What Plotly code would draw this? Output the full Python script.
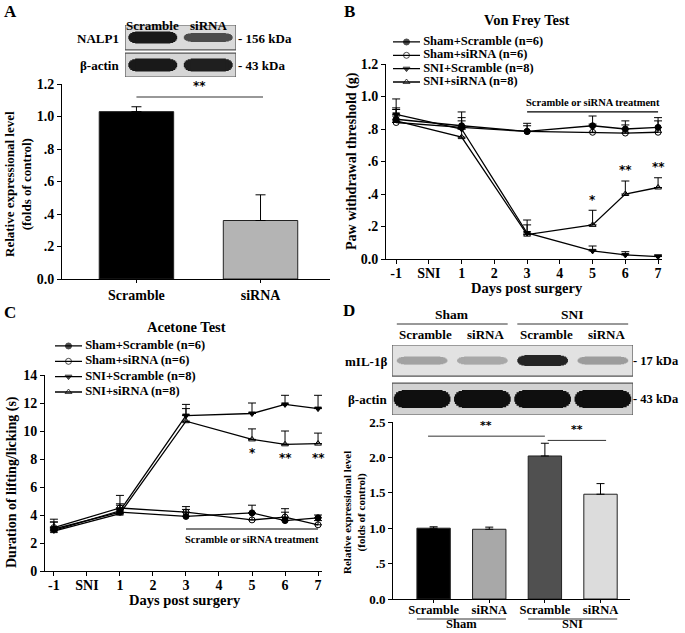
import plotly.graph_objects as go

W, H = 685, 633
SERIF = "Liberation Serif"

# ---- panel A: NALP1 knock-down ----
a_groups = ["Scramble", "siRNA"]
a_level = [1.03, 0.36]
a_err = [0.03, 0.158]
a_colors = ["#000000", "#b4b4b4"]
a_ticks = [0, 0.2, 0.4, 0.6, 0.8, 1.0, 1.2]
a_ticktext = ["0.0", ".2", ".4", ".6", ".8", "1.0", "1.2"]
a_blot_rows = ["NALP1", "β-actin"]
a_blot_kda = ["- 156 kDa", "- 43 kDa"]
a_blot_nalp1 = [0.95, 0.7]
a_blot_actin = [0.95, 0.92]

# ---- panels B/C: behaviour ----
days = [-1, 1, 3, 5, 6, 7]
day_ticks = [-1, 0, 1, 2, 3, 4, 5, 6, 7]
day_ticktext = ["-1", "SNI", "1", "2", "3", "4", "5", "6", "7"]
series_names = ["Sham+Scramble (n=6)", "Sham+siRNA (n=6)",
                "SNI+Scramble (n=8)", "SNI+siRNA (n=8)"]
series_symbols = ["circle", "circle-open", "triangle-down", "triangle-up-open"]

vf_sham_scr = [0.86, 0.82, 0.785, 0.82, 0.80, 0.81]
vf_sham_scr_err = [0.07, 0.085, 0.05, 0.06, 0.05, 0.06]
vf_sham_sirna = [0.84, 0.81, 0.785, 0.78, 0.775, 0.78]
vf_sham_sirna_err = [0.04, 0.04, 0.035, 0.05, 0.05, 0.07]
vf_sni_scr = [0.89, 0.80, 0.16, 0.05, 0.025, 0.015]
vf_sni_scr_err = [0.095, 0.07, 0.05, 0.03, 0.02, 0.01]
vf_sni_sirna = [0.85, 0.75, 0.15, 0.21, 0.40, 0.44]
vf_sni_sirna_err = [0.07, 0.05, 0.09, 0.09, 0.08, 0.06]
vf_star_days = [5, 6, 7]
vf_stars = ["*", "**", "**"]

ac_sham_scr = [3.0, 4.2, 3.9, 4.15, 3.6, 3.8]
ac_sham_scr_err = [0.5, 0.5, 0.5, 0.55, 0.6, 0.2]
ac_sham_sirna = [3.1, 4.5, 4.2, 3.65, 3.85, 3.3]
ac_sham_sirna_err = [0.4, 0.9, 0.4, 0.5, 0.6, 0.3]
ac_sni_scr = [2.9, 4.3, 11.1, 11.25, 11.9, 11.6]
ac_sni_scr_err = [0.8, 0.5, 0.8, 0.75, 0.65, 0.95]
ac_sni_sirna = [2.85, 4.1, 10.7, 9.4, 9.05, 9.1]
ac_sni_sirna_err = [0.3, 0.4, 0.9, 0.75, 0.95, 0.75]
ac_star_days = [5, 6, 7]
ac_stars = ["*", "**", "**"]
ac_ticks = [0, 2, 4, 6, 8, 10, 12, 14]

# ---- panel D: mIL-1beta ----
d_groups = ["Scramble", "siRNA", "Scramble", "siRNA"]
d_surgery = ["Sham", "SNI"]
d_level = [1.0, 0.985, 2.02, 1.48]
d_err = [0.02, 0.03, 0.18, 0.15]
d_colors = ["#000000", "#a8a8a8", "#505050", "#dcdcdc"]
d_ticks = [0, 0.5, 1.0, 1.5, 2.0, 2.5]
d_ticktext = ["0.0", ".5", "1.0", "1.5", "2.0", "2.5"]
d_blot_rows = ["mIL-1β", "β-actin"]
d_blot_kda = ["- 17 kDa", "- 43 kDa"]
d_blot_il1b = [0.3, 0.27, 0.9, 0.33]
d_blot_actin = [1.0, 1.0, 1.0, 1.0]


def xd(a, b):
    return [a / W, b / W]


def yd(top, bottom):
    return [1 - bottom / H, 1 - top / H]


def bold(size, family=SERIF):
    return dict(family=family, size=size, color="black", weight="bold")


def note(text, x, y, size, xanchor="center", **kw):
    fig.add_annotation(text=text, x=x / W, y=1 - y / H, xref="paper", yref="paper",
                       showarrow=False, font=bold(size), xanchor=xanchor,
                       yanchor="middle", **kw)


STAR = bold(12, "DejaVu Sans")

fig = go.Figure()

# panel A bars
fig.add_trace(go.Bar(
    x=list(range(len(a_groups))), y=a_level, width=0.6,
    marker=dict(color=a_colors, line=dict(color="#222", width=1)),
    error_y=dict(type="data", symmetric=False, array=a_err,
                 arrayminus=[0] * len(a_err), color="black", thickness=1, width=5),
    xaxis="x", yaxis="y", showlegend=False))


def behaviour(xa, ya, groups):
    for name, sym, (vals, err) in zip(series_names, series_symbols, groups):
        fig.add_trace(go.Scatter(
            x=days, y=vals, mode="lines+markers", name=name,
            line=dict(color="black", width=1.3),
            marker=dict(symbol=sym, size=6, color="black",
                        line=dict(color="black", width=1)),
            error_y=dict(type="data", symmetric=False, array=err,
                         arrayminus=[0] * len(err), color="black",
                         thickness=1, width=4),
            xaxis=xa, yaxis=ya, showlegend=False))


behaviour("x2", "y2", [(vf_sham_scr, vf_sham_scr_err), (vf_sham_sirna, vf_sham_sirna_err),
                       (vf_sni_scr, vf_sni_scr_err), (vf_sni_sirna, vf_sni_sirna_err)])
behaviour("x3", "y3", [(ac_sham_scr, ac_sham_scr_err), (ac_sham_sirna, ac_sham_sirna_err),
                       (ac_sni_scr, ac_sni_scr_err), (ac_sni_sirna, ac_sni_sirna_err)])

# significance stars
for d, s in zip(vf_star_days, vf_stars):
    i = days.index(d)
    fig.add_annotation(text=s, x=d, y=vf_sni_sirna[i] + vf_sni_sirna_err[i] + 0.01,
                       xref="x2", yref="y2", showarrow=False, yanchor="bottom",
                       font=STAR)
for d, s in zip(ac_star_days, ac_stars):
    i = days.index(d)
    fig.add_annotation(text=s, x=d, y=ac_sni_sirna[i] - 0.35, xref="x3", yref="y3",
                       showarrow=False, yanchor="top", font=STAR)

# panel D bars
fig.add_trace(go.Bar(
    x=list(range(len(d_groups))), y=d_level, width=0.6,
    marker=dict(color=d_colors, line=dict(color="#222", width=1)),
    error_y=dict(type="data", symmetric=False, array=d_err,
                 arrayminus=[0] * len(d_err), color="black", thickness=1, width=4),
    xaxis="x4", yaxis="y4", showlegend=False))


# western blot bands (layered strokes give rounded ends)
def band(xa, ya, cx, cy, level, thick, half, bg=215):
    shade = int(round(bg * (1 - level) + 15 * level))
    color = f"rgb({shade},{shade},{shade})"
    for f_len, f_w in [(1.0, 0.3), (0.97, 0.55), (0.92, 0.75), (0.84, 0.9), (0.72, 1.0)]:
        fig.add_trace(go.Scatter(
            x=[cx - half * f_len, cx + half * f_len], y=[cy, cy], mode="lines",
            line=dict(color=color, width=thick * f_w), hoverinfo="skip",
            xaxis=xa, yaxis=ya, showlegend=False))


for i, lv in enumerate(a_blot_nalp1):
    band("x5", "y5", i, 1.52, lv, 12 if lv > 0.8 else 9, 0.44)
for i, lv in enumerate(a_blot_actin):
    band("x5", "y5", i, 0.46, lv, 13, 0.44)
for i, lv in enumerate(d_blot_il1b):
    band("x6", "y6", i, 1.555, lv, 8 if lv < 0.5 else 11, 0.42, bg=225)
for i, lv in enumerate(d_blot_actin):
    band("x6", "y6", i, 0.455, lv, 18, 0.47, bg=210)

# blot boxes
for xa, ya, n, boxes, fills in [
        ("x5", "y5", 2, [(1.04, 2.0), (0.0, 0.92)], ["#dadada", "#d6d6d6"]),
        ("x6", "y6", 4, [(1.11, 2.0), (0.0, 0.91)], ["#e2e2e2", "#d2d2d2"])]:
    for (y0, y1), fc in zip(boxes, fills):
        fig.add_shape(type="rect", xref=xa, yref=ya, x0=-0.5, x1=n - 0.5, y0=y0, y1=y1,
                      fillcolor=fc, line=dict(color="#555", width=1.2), layer="below")


# manual legends
def legend(xa, ya):
    for k, (name, sym) in enumerate(zip(series_names, series_symbols)):
        fig.add_trace(go.Scatter(
            x=[0, 0.5, 1.0], y=[k + 1] * 3, mode="lines+markers+text",
            text=["", "", " " + name], textposition="middle right", textfont=bold(12.5),
            line=dict(color="black", width=1.3),
            marker=dict(symbol=sym, size=[0, 6, 0], color="black",
                        line=dict(color="black", width=1)),
            xaxis=xa, yaxis=ya, showlegend=False, hoverinfo="skip"))


legend("x7", "y7")
legend("x8", "y8")

# treatment bars and significance lines
fig.add_shape(type="line", xref="x2", yref="y2", x0=3, x1=7, y0=0.905, y1=0.905,
              line=dict(color="black", width=1.2))
fig.add_annotation(text="Scramble or siRNA treatment", x=5, y=0.915, xref="x2", yref="y2",
                   showarrow=False, yanchor="bottom", font=bold(10.5))
fig.add_shape(type="line", xref="x3", yref="y3", x0=3, x1=7, y0=3.0, y1=3.0,
              line=dict(color="black", width=1.2))
fig.add_annotation(text="Scramble or siRNA treatment", x=5, y=2.8, xref="x3", yref="y3",
                   showarrow=False, yanchor="top", font=bold(10.5))

fig.add_shape(type="line", xref="x", yref="y", x0=0, x1=1.02, y0=1.12, y1=1.12,
              line=dict(color="#333", width=1.2))
fig.add_annotation(text="**", x=0.51, y=1.13, xref="x", yref="y", showarrow=False,
                   yanchor="bottom", font=STAR)

for x0, x1, yv in [(-0.1, 2.0, 2.30), (2.05, 3.1, 2.24)]:
    fig.add_shape(type="line", xref="x4", yref="y4", x0=x0, x1=x1, y0=yv, y1=yv,
                  line=dict(color="#333", width=1))
    fig.add_annotation(text="**", x=(x0 + x1) / 2, y=yv + 0.03, xref="x4", yref="y4",
                       showarrow=False, yanchor="bottom", font=bold(11, "DejaVu Sans"))

# panel D surgery groups, below axis and above blot
for g, name in enumerate(d_surgery):
    c = 2 * g + 0.5
    fig.add_shape(type="line", xref="x4", yref="paper", x0=c - 0.8, x1=c + 0.8,
                  y0=1 - 619 / H, y1=1 - 619 / H, line=dict(color="#333", width=1))
    fig.add_annotation(text=name, x=c, y=1 - 633 / H, xref="x4", yref="paper",
                       showarrow=False, font=bold(12.5), yanchor="bottom")
    fig.add_shape(type="line", xref="x6", yref="paper", x0=c - 0.92, x1=c + 0.92,
                  y0=1 - 324 / H, y1=1 - 324 / H, line=dict(color="#333", width=1))
    fig.add_annotation(text=name, x=c, y=1 - 314 / H, xref="x6", yref="paper",
                       showarrow=False, font=bold(13.5))
for i, g in enumerate(d_groups):
    fig.add_annotation(text=g, x=i + 0.06, y=1 - 334 / H, xref="x6", yref="paper",
                       showarrow=False, font=bold(13))
for i, g in enumerate(a_groups):
    fig.add_annotation(text=g, x=i, y=1 - 16 / H, xref="x5", yref="paper",
                       showarrow=False, font=bold(13))

# blot row labels
for lab, kda, yy in zip(a_blot_rows, a_blot_kda, [38, 65]):
    note(lab, 121, yy, 13, xanchor="right")
    note(kda, 236, yy, 13, xanchor="left")
for lab, kda, yy in zip(d_blot_rows, d_blot_kda, [361, 399]):
    note(lab, 389, yy, 13, xanchor="right")
    note(kda, 631, yy, 12.5, xanchor="left")

# panel letters, titles, axis titles
for lab, x, y in [("A", 10, 12), ("B", 349, 12), ("C", 10, 312), ("D", 349, 310)]:
    note(lab, x, y, 17)
note("Von Frey Test", 527, 20, 14.5)
note("Acetone Test", 187, 327, 14.5)
note("Days post surgery", 527, 288, 14.5)
note("Days post surgery", 185, 600, 14.5)
note("Relative expressional level<br>(folds of control)", 18, 184, 13, textangle=-90)
note("Paw withdrawal threshold (g)", 352, 161, 14, textangle=-90)
note("Duration of lifting/licking (s)", 12, 482, 14, textangle=-90)
note("Relative expressional level<br>(folds of control)", 354, 513, 11, textangle=-90)

axis_common = dict(showline=True, linecolor="black", linewidth=1, showgrid=False,
                   zeroline=False, ticks="outside", ticklen=4, tickwidth=1,
                   tickcolor="black", tickfont=bold(14), automargin=False)
hidden = dict(visible=False, showgrid=False, zeroline=False, fixedrange=True,
              automargin=False)

fig.update_layout(
    width=W, height=H, margin=dict(l=0, r=0, t=0, b=0, autoexpand=False),
    paper_bgcolor="white", plot_bgcolor="rgba(0,0,0,0)", showlegend=False,
    bargap=0.4,
    xaxis=dict(axis_common, domain=xd(62, 330), range=[-0.6, 1.56], anchor="y",
               tickvals=list(range(len(a_groups))), ticktext=a_groups, ticklen=3),
    yaxis=dict(axis_common, domain=yd(84, 279), range=[0, 1.2], anchor="x",
               tickvals=a_ticks, ticktext=a_ticktext),
    xaxis2=dict(axis_common, domain=xd(386, 662), range=[-1.31, 7.12], anchor="y2",
                tickvals=day_ticks, ticktext=day_ticktext, ticklabelstandoff=-3),
    yaxis2=dict(axis_common, domain=yd(64, 259), range=[0, 1.2], anchor="x2",
                tickvals=a_ticks, ticktext=a_ticktext),
    xaxis3=dict(axis_common, domain=xd(45, 322), range=[-1.27, 7.12], anchor="y3",
                tickvals=day_ticks, ticktext=day_ticktext, ticklabelstandoff=-3),
    yaxis3=dict(axis_common, domain=yd(375, 571), range=[0, 14], anchor="x3",
                tickvals=ac_ticks),
    xaxis4=dict(axis_common, domain=xd(393, 630), range=[-0.73, 3.53], anchor="y4",
                tickvals=list(range(len(d_groups))), ticktext=d_groups,
                ticklen=3, tickfont=bold(12.5), ticklabelstandoff=-4),
    yaxis4=dict(axis_common, domain=yd(422, 599), range=[0, 2.5], anchor="x4",
                tickvals=d_ticks, ticktext=d_ticktext, tickfont=bold(13)),
    xaxis5=dict(hidden, domain=xd(125, 236), range=[-0.5, 1.5], anchor="y5"),
    yaxis5=dict(hidden, domain=yd(25, 77), range=[0, 2], anchor="x5"),
    xaxis6=dict(hidden, domain=xd(392, 633), range=[-0.5, 3.5], anchor="y6"),
    yaxis6=dict(hidden, domain=yd(345, 415), range=[0, 2], anchor="x6"),
    xaxis7=dict(hidden, domain=xd(393, 553), range=[0, 160 / 27], anchor="y7"),
    yaxis7=dict(hidden, domain=yd(35.3, 88.7), range=[4.5, 0.5], anchor="x7"),
    xaxis8=dict(hidden, domain=xd(55, 215), range=[0, 160 / 27], anchor="y8"),
    yaxis8=dict(hidden, domain=yd(338.3, 399.7), range=[4.5, 0.5], anchor="x8"),
)

# the page body has a default 8px margin; drop it so the figure fills the window
fig.write_html("out.html", config={"displayModeBar": False},
               post_script="document.body.style.margin = '0';")
